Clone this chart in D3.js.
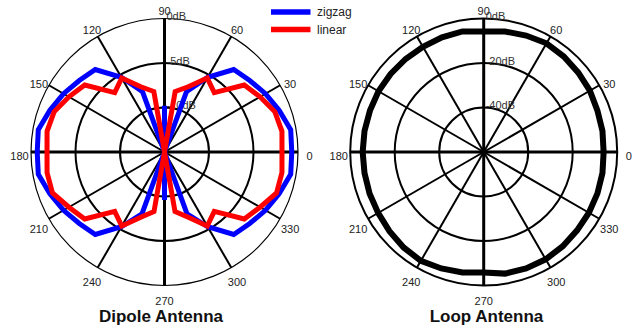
<!DOCTYPE html>
<html><head><meta charset="utf-8">
<script src="https://cdn.jsdelivr.net/npm/d3@7"></script>
<style>
html,body{margin:0;padding:0;background:#fff;}
svg{display:block;font-family:"Liberation Sans",Arial,sans-serif;}
</style></head>
<body>
<svg id="chart" width="633" height="329"></svg>
<script>
// ---- data ----
const angleDeg = [0,10,20,30,40,50,60,70,80,90,100,110,120,130,140,150,160,170,
                  180,190,200,210,220,230,240,250,260,270,280,290,300,310,320,330,340,350];
const zigzag = [-0.7,-0.6,-1.3,-1.9,-2.5,-2.9,-5.3,-7.8,-15,-9.8,-15,-7.8,-5.3,-2.9,-2.5,-1.9,-1.3,-0.6,
                -0.7,-0.6,-1.3,-1.9,-2.5,-2.9,-5.3,-7.6,-15,-9.6,-15,-7.6,-5.3,-2.9,-2.5,-1.9,-1.3,-0.6];
const linear = [-1.8,-1.6,-1.8,-2.6,-3.3,-6.3,-5.4,-7.2,-8.1,-15,-8.1,-7.2,-5.4,-6.3,-3.3,-2.6,-1.8,-1.6,
                -1.8,-1.6,-1.6,-2.6,-3.3,-6.3,-5.4,-7.2,-8.2,-15,-8.2,-7.2,-5.4,-6.3,-3.3,-2.6,-1.6,-1.6];
const loop = [-6.1,-5.8,-5.6,-4.9,-4.5,-4.0,-3.6,-4.3,-5.0,-5.8,-5.0,-5.2,-5.4,-5.4,-5.4,-5.4,-5.6,-5.6,
              -5.6,-5.6,-5.4,-5.2,-4.7,-4.0,-3.5,-4.3,-5.0,-5.8,-4.5,-4.3,-4.3,-4.7,-5.2,-5.4,-5.6,-5.8];
const spokeAngles = [0,30,60,90,120,150,180,210,240,270,300,330];
const spokeLabels = ["0","30","60","90","120","150","180","210","240","270","300","330"];
const dipoleRings = [-10,-5,0];
const dipoleRingLabels = ["-10dB","-5dB","0dB"];
const loopRings = [-40,-20,0];
const loopRingLabels = ["-40dB","-20dB","0dB"];
const seriesNames = ["zigzag","linear"];
const seriesColors = ["#0000ff","#ff0000"];
const titles = ["Dipole Antenna","Loop Antenna"];

// ---- drawing ----
const svg = d3.select("#chart");
const R = 133.5;
const toRad = d => d*Math.PI/180;

function polar(cx, cy, domain, rings, ringLabels, angles, series, colors, widths, outerW, titleText, titleX){
  const g = svg.append("g").attr("transform", `translate(${cx},${cy})`);
  const r = d3.scaleLinear().domain(domain).range([0,R]).clamp(true);
  g.selectAll("circle.ring").data(rings).join("circle")
    .attr("r", d => r(d)).attr("fill","none").attr("stroke","#000")
    .attr("stroke-width", d => d === domain[1] ? outerW : 2);
  g.selectAll("line.spoke").data(spokeAngles).join("line")
    .attr("x1",0).attr("y1",0)
    .attr("x2", d => R*Math.cos(toRad(d))).attr("y2", d => -R*Math.sin(toRad(d)))
    .attr("stroke","#000").attr("stroke-width", d => d % 90 === 0 ? 3 : 2);
  g.selectAll("text.ang").data(spokeAngles).join("text")
    .attr("x", d => 145*Math.cos(toRad(d)))
    .attr("y", d => -145*Math.sin(toRad(d)) + 4)
    .attr("text-anchor","middle").attr("dominant-baseline","central")
    .attr("font-size", 11).attr("fill","#222")
    .text((d,i) => spokeLabels[i]);
  g.selectAll("text.rl").data(rings).join("text")
    .attr("x", 2).attr("y", d => -r(d) + 1.5)
    .attr("font-size", 11).attr("fill","#333")
    .text((d,i) => ringLabels[i]);
  const line = d3.lineRadial()
    .angle((d,i) => Math.PI/2 - toRad(angles[i]))
    .radius(d => r(d))
    .curve(d3.curveLinearClosed);
  series.forEach((s, k) => {
    g.append("path").attr("d", line(s)).attr("fill","none")
      .attr("stroke", colors[k]).attr("stroke-width", widths[k])
      .attr("stroke-linejoin","miter").attr("stroke-miterlimit", 4);
  });
  svg.append("text").attr("x", titleX).attr("y", 321.5)
    .attr("text-anchor","middle").attr("font-size", 17).attr("font-weight","bold")
    .attr("fill","#111").text(titleText);
}

polar(164.5, 152, [-15,0], dipoleRings, dipoleRingLabels, angleDeg, [zigzag, linear], seriesColors, [5,5], 1.2, titles[0], 161);
polar(483.7, 152, [-60,0], loopRings, loopRingLabels, angleDeg, [loop], ["#000"], [6], 2, titles[1], 486.5);

// legend
const leg = svg.append("g");
seriesNames.forEach((n, i) => {
  const y = 12 + i*17.5;
  leg.append("line").attr("x1",271).attr("x2",310.5).attr("y1",y).attr("y2",y)
    .attr("stroke", seriesColors[i]).attr("stroke-width", 5.5);
  leg.append("text").attr("x",317).attr("y",y).attr("dominant-baseline","central")
    .attr("font-size", 12).attr("fill","#222").text(n);
});
</script>
</body></html>
